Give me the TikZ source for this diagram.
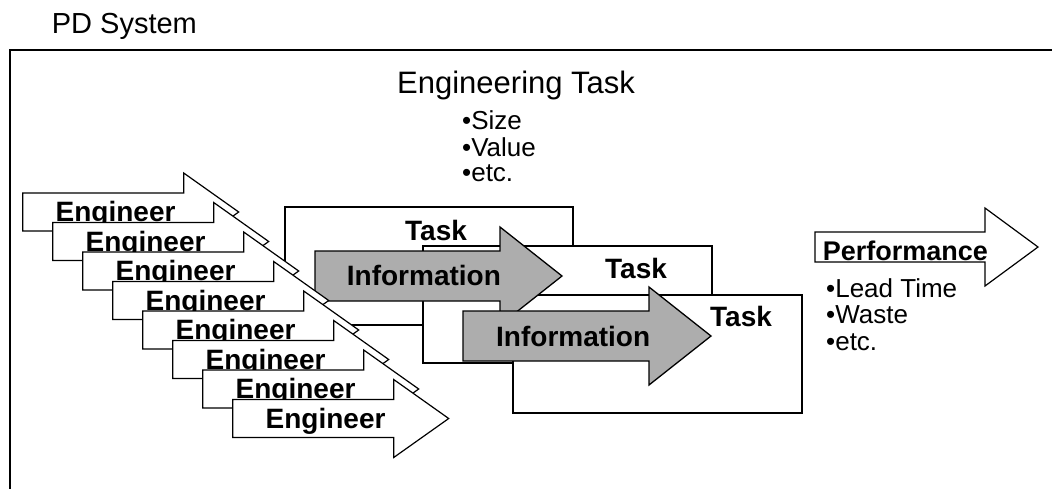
\documentclass[tikz,border=0pt]{standalone}
\usepackage{fontspec}
\setmainfont{Liberation Sans}

\definecolor{infogray}{gray}{0.68}

% block arrow: left x, centre y, body length, half body, half head, head length, style
\newcommand{\blockarrow}[7]{%
  \filldraw[#7] ({#1},{#2-#4}) -- ({#1+#3},{#2-#4}) -- ({#1+#3},{#2-#5})
    -- ({#1+#3+#6},{#2}) -- ({#1+#3},{#2+#5}) -- ({#1+#3},{#2+#4})
    -- ({#1},{#2+#4}) -- cycle;}

\tikzset{
  framebox/.style={draw=black, line width=1.8pt},
  taskbox/.style={draw=black, fill=white, line width=1.3pt},
  engarrow/.style={draw=black, fill=white, line width=1.2pt, line join=miter},
  infoarrow/.style={draw=black, fill=infogray, line width=1.3pt, line join=miter},
  boldtext/.style={anchor=base west, inner sep=0pt, font=\fontsize{28}{32}\selectfont\bfseries},
  plaintext/.style={anchor=base west, inner sep=0pt, font=\fontsize{29}{32}\selectfont},
  bullettext/.style={anchor=base west, inner sep=0pt, font=\fontsize{26}{28}\selectfont},
}

\begin{document}
\begin{tikzpicture}[x=1pt,y=-1pt]
    \useasboundingbox (0,0) rectangle (1052,488);
    \clip (0,0) rectangle (1052,488);

    % outer frame and headings
    \draw[framebox] (10,50) rectangle (1080,520);
    \node[plaintext] (title) at (51.7,33.3) {PD System};
    \node[plaintext, font=\fontsize{31}{32}\selectfont] (engtask) at (397,93.3) {Engineering Task};
    \node[bullettext] (size) at (462,129) {•Size};
    \node[bullettext] (value) at (462,156) {•Value};
    \node[bullettext] (etc1) at (462,181) {•etc.};

    % tasks
    \filldraw[taskbox] (285,207) rectangle (573,325);
    \node[boldtext] (task1) at (405,240) {Task};
    \filldraw[taskbox] (423,246) rectangle (712,363);
    \node[boldtext] (task2) at (605,278) {Task};
    \filldraw[taskbox] (513,295) rectangle (802,413);
    \node[boldtext] (task3) at (710,326.7) {Task};

    % information
    \blockarrow{315}{276}{185}{25}{49}{62}{infoarrow}
    \node[boldtext] (info1) at (346.7,285) {Information};
    \blockarrow{463}{336}{186}{25}{49}{62}{infoarrow}
    \node[boldtext] (info2) at (496,346.7) {Information};

    % engineers
    \foreach \i in {1,...,8}{
        \blockarrow{22.7+30*(\i-1)}{212+29.5*(\i-1)}{161}{19}{39}{55}{engarrow}
        \node[boldtext] (eng\i) at ({55.5+30*(\i-1)},{221.5+29.5*(\i-1)}) {Engineer};
    }

    % performance
    \blockarrow{815}{247}{170}{15}{39}{53}{engarrow}
    \node[boldtext, font=\fontsize{27}{30}\selectfont\bfseries] (perf) at (822.7,260.7) {Performance};
    \node[bullettext] (lead) at (826,297) {•Lead Time};
    \node[bullettext] (waste) at (826,323) {•Waste};
    \node[bullettext] (etc2) at (826,350) {•etc.};
\end{tikzpicture}
\end{document}
